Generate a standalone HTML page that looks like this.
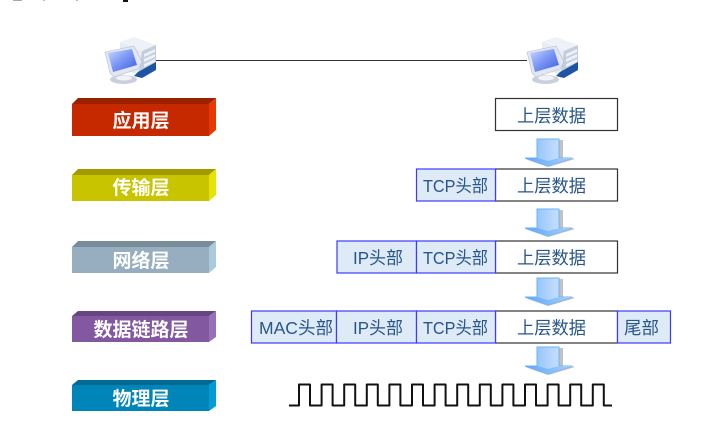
<!DOCTYPE html>
<html><head><meta charset="utf-8"><style>
html,body{margin:0;padding:0;background:#fff;overflow:hidden}
svg{display:block;filter:blur(.3px)}
.b{font-family:"Liberation Sans","Noto Sans CJK SC",sans-serif;font-weight:700;font-size:19px;fill:#fff;text-anchor:middle}
.t{font-family:"Liberation Sans","Noto Sans CJK SC",sans-serif;font-size:17.5px;fill:#285688}
</style></head><body>
<svg width="719" height="436" viewBox="0 0 719 436" xmlns="http://www.w3.org/2000/svg">
<defs>
<linearGradient id="ag" x1="0" y1="0" x2="1" y2="0"><stop offset="0" stop-color="#7db8fb"/><stop offset="1" stop-color="#e2eefc"/></linearGradient>
<linearGradient id="hg" x1="0" y1="0" x2="1" y2="0"><stop offset="0" stop-color="#5aa8fa"/><stop offset="1" stop-color="#a8d0fb"/></linearGradient>
<linearGradient id="sg" x1="0" y1="0" x2="1" y2="1"><stop offset="0" stop-color="#cfd9ff"/><stop offset=".45" stop-color="#7f9bf5"/><stop offset="1" stop-color="#3a5ce0"/></linearGradient>
<g id="pc">
<polygon points="120,42 134,37 156,45 142,51" fill="#eef2f8"/>
<polygon points="120,42 142,51 142,75 120,70" fill="#e6ebf4"/>
<polygon points="142,51 156,45 156,62 138,78" fill="#c3cddc"/>
<polygon points="144,54 155,49 155,52 144,57" fill="#eef1f7"/>
<polygon points="144,59 155,54 155,57 144,62" fill="#eef1f7"/>
<polygon points="144,64 155,59 155,62 144,67" fill="#eef1f7"/>
<polygon points="138,72 156,62 156,70 142,78 134,76" fill="#1e54a4"/>
<polygon points="105,52 134,46 142,62 138,69 114,77 110,73" fill="#e1e6f1" stroke="#b7c0d2" stroke-width=".6"/>
<polygon points="108,53 132,49 137,65 113,72" fill="url(#sg)"/>
<ellipse cx="123.5" cy="79.5" rx="13.5" ry="4.5" fill="#c9cfdd"/>
<ellipse cx="124" cy="78" rx="8" ry="2.5" fill="#f0f2f8"/>
</g>
<g id="arr">
<polygon points="559,1 563,1 563,19 559,19" fill="#c2c2c2"/>
<polygon points="525,20 548,28 575,20 572,19 548,24" fill="#bdbdbd"/>
<polygon points="537,0 559,0 559,19 572,19 548,27 525,19 537,19" fill="url(#ag)" stroke="#6db2fb" stroke-width="1"/>
<polygon points="525,19 537,19 548,22 559,19 572,19 548,27" fill="url(#hg)"/>
</g>
</defs>

<rect x="13" y="0" width="9" height="1" fill="#aaa"/><rect x="43" y="0" width="2" height="1" fill="#bbb"/><rect x="76" y="0" width="2" height="1" fill="#bbb"/><rect x="123" y="0" width="5" height="2" fill="#111"/>

<line x1="155" y1="60.5" x2="527" y2="60.5" stroke="#333" stroke-width="1"/>
<use href="#pc"/>
<use href="#pc" x="422"/>

<!-- layer bars -->
<polygon points="72,104 78,98 216,98 209,104" fill="#9a2000"/><rect x="72" y="104" width="137" height="32" fill="#c62800"/><polygon points="209,104 216,98 216,130 209,136" fill="#e63800"/>
<text class="b" x="141" y="127">应用层</text>
<polygon points="72,175 78,169 216,169 209,175" fill="#a09c00"/><rect x="72" y="175" width="137" height="26" fill="#c8c400"/><polygon points="209,175 216,169 216,195 209,201" fill="#e6e400"/>
<text class="b" x="141" y="194">传输层</text>
<polygon points="72,247 78,241 216,241 209,247" fill="#788c99"/><rect x="72" y="247" width="137" height="26" fill="#96aebf"/><polygon points="209,247 216,241 216,267 209,273" fill="#adc9dc"/>
<text class="b" x="141" y="267">网络层</text>
<polygon points="72,316 78,311 216,311 209,316" fill="#664580"/><rect x="72" y="316" width="137" height="26" fill="#8258a0"/><polygon points="209,316 216,311 216,337 209,342" fill="#9670b8"/>
<text class="b" x="141" y="336">数据链路层</text>
<polygon points="72,385 78,380 216,380 209,385" fill="#006a92"/><rect x="72" y="385" width="137" height="26" fill="#0085b8"/><polygon points="209,385 216,380 216,406 209,411" fill="#009cd6"/>
<text class="b" x="141" y="405">物理层</text>

<!-- data boxes -->
<g fill="#fff" stroke="#333" stroke-width="1.2">
<rect x="495.5" y="98.5" width="122" height="32"/>
<rect x="495.5" y="169" width="122" height="32"/>
<rect x="495.5" y="241" width="122" height="32"/>
<rect x="495.5" y="311" width="122" height="32"/>
</g>
<g fill="#dfeaf7" stroke="#3a3aff" stroke-width="1.2">
<rect x="416.5" y="169" width="79" height="32"/>
<rect x="337" y="241" width="79.5" height="32"/>
<rect x="416.5" y="241" width="79" height="32"/>
<rect x="251.5" y="311" width="85" height="32"/>
<rect x="336.5" y="311" width="80" height="32"/>
<rect x="416.5" y="311" width="79" height="32"/>
<rect x="617.5" y="311" width="53" height="32"/>
</g>
<text class="t" x="517" y="122" textLength="69" lengthAdjust="spacingAndGlyphs">上层数据</text>
<text class="t" x="517" y="192" textLength="69" lengthAdjust="spacingAndGlyphs">上层数据</text>
<text class="t" x="517" y="264" textLength="69" lengthAdjust="spacingAndGlyphs">上层数据</text>
<text class="t" x="517" y="334" textLength="69" lengthAdjust="spacingAndGlyphs">上层数据</text>
<text class="t" x="423" y="192" textLength="65" lengthAdjust="spacingAndGlyphs">TCP头部</text>
<text class="t" x="423" y="264" textLength="65" lengthAdjust="spacingAndGlyphs">TCP头部</text>
<text class="t" x="423" y="334" textLength="65" lengthAdjust="spacingAndGlyphs">TCP头部</text>
<text class="t" x="353" y="264" textLength="50" lengthAdjust="spacingAndGlyphs">IP头部</text>
<text class="t" x="353" y="334" textLength="50" lengthAdjust="spacingAndGlyphs">IP头部</text>
<text class="t" x="259" y="334" textLength="74" lengthAdjust="spacingAndGlyphs">MAC头部</text>
<text class="t" x="624" y="334" textLength="35" lengthAdjust="spacingAndGlyphs">尾部</text>

<use href="#arr" y="139"/>
<use href="#arr" y="209"/>
<use href="#arr" y="278"/>
<use href="#arr" y="347"/>

<!-- square wave -->
<path d="M289 405.5H299V384.5H310V405.5H321.6V384.5H332.6V405.5H344.2V384.5H355.2V405.5H366.8V384.5H377.8V405.5H389.4V384.5H400.4V405.5H412V384.5H423V405.5H434.6V384.5H445.6V405.5H457.2V384.5H468.2V405.5H479.8V384.5H490.8V405.5H502.4V384.5H513.4V405.5H525V384.5H536V405.5H547.6V384.5H558.6V405.5H570.2V384.5H581.2V405.5H592.8V384.5H603.8V405.5H612" fill="none" stroke="#111" stroke-width="2" stroke-linejoin="round"/>
</svg>
</body></html>
